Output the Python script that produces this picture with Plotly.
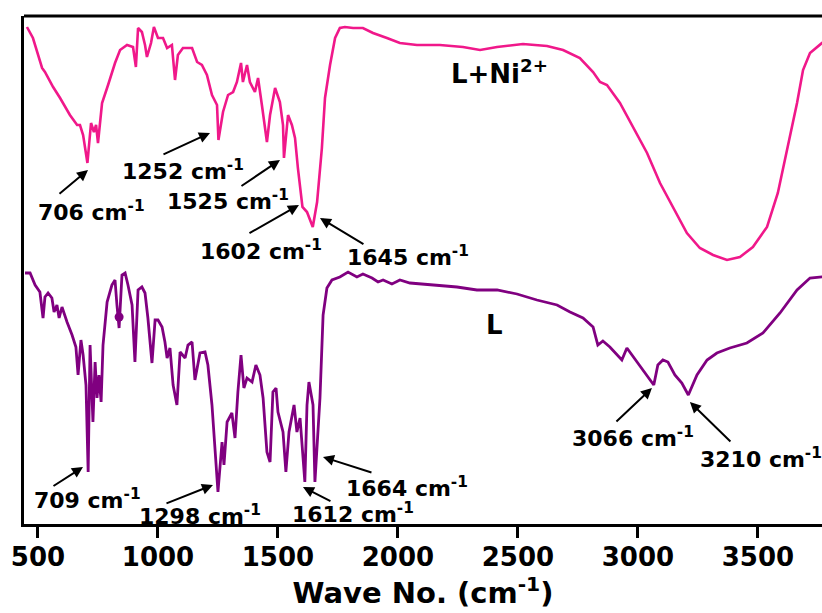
import plotly.graph_objects as go

# ---------------- data (wavenumber in cm^-1, transmittance in a.u., stacked) -------------
ni_wn = [454, 479, 517, 529, 563, 592, 633, 663, 675, 688, 706, 721, 733, 742, 750, 767, 792,
         821, 842, 871, 896, 908, 917, 933, 946, 954, 971, 983, 1000, 1021, 1038, 1058, 1071,
         1083, 1104, 1142, 1163, 1183, 1204, 1225, 1246, 1252, 1271, 1292, 1313, 1329, 1346,
         1354, 1371, 1383, 1404, 1417, 1433, 1454, 1467, 1488, 1508, 1521, 1525, 1542, 1558,
         1571, 1583, 1602, 1621, 1645, 1663, 1683, 1696, 1717, 1738, 1758, 1779, 1813, 1854,
         1896, 1954, 2008, 2079, 2175, 2271, 2342, 2413, 2521, 2621, 2688, 2758, 2813, 2842,
         2871, 2925, 2979, 3038, 3092, 3146, 3204, 3258, 3313, 3371, 3425, 3479, 3538, 3583,
         3625, 3663, 3688, 3717, 3767, 3800]
ni_t = [100.0, 97.8, 91.8, 91.0, 88.0, 85.8, 82.4, 80.4, 80.4, 78.4, 72.8, 80.8, 79.0, 80.4,
        76.8, 84.8, 88.4, 92.8, 95.4, 96.4, 96.0, 92.0, 99.8, 99.0, 96.4, 94.0, 96.8, 100.0,
        97.8, 97.8, 95.8, 96.4, 89.4, 94.4, 95.8, 95.8, 93.0, 92.4, 90.4, 86.4, 84.4, 77.4,
        83.0, 86.4, 87.0, 89.0, 92.8, 89.0, 92.4, 89.0, 87.0, 89.8, 84.4, 77.0, 82.4, 87.8,
        85.0, 80.4, 73.8, 82.4, 80.4, 77.8, 71.8, 64.0, 63.0, 60.0, 65.0, 75.8, 85.8, 92.4,
        97.8, 99.8, 100.0, 99.8, 99.8, 98.8, 97.8, 96.8, 96.4, 96.4, 96.0, 95.4, 96.0, 96.6,
        96.2, 95.4, 93.8, 91.0, 89.0, 88.4, 84.8, 80.0, 74.8, 68.8, 64.0, 58.8, 55.8, 54.4,
        53.4, 54.0, 56.0, 60.0, 66.8, 76.0, 84.8, 91.4, 94.8, 96.8, 97.4]

l_wn = [446, 467, 488, 508, 521, 529, 542, 558, 567, 579, 588, 600, 621, 642, 658, 667, 679,
        688, 700, 709, 717, 729, 738, 746, 754, 763, 771, 788, 808, 821, 829, 838, 850, 863,
        875, 892, 904, 917, 933, 946, 958, 975, 988, 1000, 1017, 1029, 1038, 1050, 1063, 1079,
        1092, 1113, 1125, 1142, 1154, 1175, 1196, 1208, 1225, 1238, 1250, 1267, 1275, 1288,
        1308, 1321, 1333, 1346, 1358, 1371, 1392, 1408, 1425, 1438, 1454, 1467, 1479, 1492,
        1500, 1521, 1533, 1546, 1567, 1579, 1592, 1612, 1621, 1629, 1646, 1654, 1664, 1675,
        1688, 1704, 1725, 1758, 1792, 1829, 1854, 1892, 1917, 1938, 1975, 2008, 2050, 2133,
        2246, 2329, 2413, 2496, 2579, 2663, 2717, 2771, 2813, 2833, 2854, 2883, 2913, 2933,
        2954, 2975, 3000, 3029, 3066, 3083, 3104, 3125, 3154, 3183, 3210, 3246, 3288, 3329,
        3383, 3454, 3521, 3592, 3663, 3717, 3767, 3800]
l_t = [50.8, 50.8, 48.4, 47.0, 41.8, 46.0, 46.8, 45.8, 43.0, 44.4, 41.8, 44.0, 41.0, 38.4,
       36.0, 30.4, 37.4, 34.4, 28.4, 11.0, 36.4, 21.0, 33.0, 25.8, 30.4, 25.0, 36.4, 45.0,
       48.4, 49.4, 44.4, 39.8, 50.4, 50.8, 48.4, 44.4, 33.0, 47.4, 48.0, 46.8, 41.8, 32.8,
       41.4, 41.4, 40.0, 37.0, 33.8, 35.8, 28.4, 24.4, 35.0, 33.8, 36.4, 37.0, 29.4, 34.8,
       35.0, 32.4, 24.4, 15.0, 7.0, 17.0, 12.4, 21.0, 22.8, 17.8, 27.0, 34.4, 27.8, 29.8,
       29.0, 32.4, 30.4, 25.8, 15.0, 13.0, 27.0, 27.8, 23.0, 19.0, 11.0, 19.0, 24.4, 19.0,
       21.8, 9.0, 24.4, 29.0, 24.4, 9.0, 16.4, 25.8, 42.4, 47.8, 49.4, 50.0, 51.0, 50.0,
       50.6, 49.8, 49.0, 49.4, 48.6, 49.4, 48.8, 48.4, 48.0, 47.4, 47.4, 46.6, 45.4, 44.4,
       43.0, 41.8, 40.0, 36.4, 37.2, 36.0, 34.4, 33.4, 35.8, 34.4, 32.8, 31.0, 28.4, 32.4,
       33.4, 33.0, 30.4, 28.8, 26.4, 30.4, 33.4, 34.8, 35.8, 36.8, 38.8, 42.8, 47.4, 49.8,
       50.0, 50.2]

# small round blob present on the L spectrum
blob_wn = [838]
blob_t = [42.0]

tick_vals = [500, 1000, 1500, 2000, 2500, 3000, 3500]
tick_text = ["500", "1000", "1500", "2000", "2500", "3000", "3500"]

# peak labels: (text, label px-x, label px-y, arrow tail px, arrow head px)
peak_labels = [
    ("706", (92, 211), (58, 195), (88, 170)),
    ("1252", (183, 170), (162, 155), (210, 133)),
    ("1525", (228, 200), (240, 187), (280, 160)),
    ("1602", (261, 250), (248, 234), (299, 205)),
    ("1645", (408, 256), (365, 245), (320, 218)),
    ("709", (88, 499), (52, 487), (83, 467)),
    ("1298", (200, 515), (165, 504), (213, 485)),
    ("1612", (353, 513), (332, 502), (303, 487)),
    ("1664", (407, 487), (373, 473), (323, 457)),
    ("3066", (633, 437), (615, 423), (652, 388)),
    ("3210", (761, 458), (732, 443), (690, 402)),
]

PINK = "#F0188A"
PURPLE = "#800080"
FONT = "DejaVu Sans"

X_RANGE = [441.7, 3767]
Y_RANGE = [0.6, 102.2]


def X(px):
    return 500 + (px - 38) * 25 / 6


def Y(py):
    return (527 - py) / 5


fig = go.Figure()
fig.add_trace(go.Scatter(x=ni_wn, y=ni_t, mode="lines", line=dict(color=PINK, width=2.6),
                         name="L+Ni2+", showlegend=False))
fig.add_trace(go.Scatter(x=l_wn, y=l_t, mode="lines", line=dict(color=PURPLE, width=2.8),
                         name="L", showlegend=False))
fig.add_trace(go.Scatter(x=blob_wn, y=blob_t, mode="markers",
                         marker=dict(color=PURPLE, size=9), showlegend=False))

annotations = []
for txt, (lx, ly), (tx, ty), (hx, hy) in peak_labels:
    annotations.append(dict(x=X(lx), y=Y(ly), xref="x", yref="y",
                            text=f"{txt} cm<sup>-1</sup>", showarrow=False,
                            font=dict(family=FONT, size=22, color="black", weight="bold"),
                            xanchor="center", yanchor="middle"))
    annotations.append(dict(x=X(hx), y=Y(hy), xref="x", yref="y",
                            ax=X(tx), ay=Y(ty), axref="x", ayref="y",
                            text="", showarrow=True, arrowhead=2, arrowsize=1.1,
                            arrowwidth=2, arrowcolor="black"))

annotations.append(dict(x=X(500), y=Y(72), xref="x", yref="y", text="L+Ni<sup>2+</sup>",
                        showarrow=False,
                        font=dict(family=FONT, size=26, color="black", weight="bold")))
annotations.append(dict(x=X(495), y=Y(325), xref="x", yref="y", text="L",
                        showarrow=False,
                        font=dict(family=FONT, size=26, color="black", weight="bold")))

fig.update_layout(
    width=822, height=613,
    margin=dict(l=24, r=0, t=16, b=89),
    paper_bgcolor="white", plot_bgcolor="white",
    annotations=annotations,
    hovermode=False,
    shapes=[dict(type="line", xref="paper", yref="paper", x0=0, x1=1, y0=1, y1=1,
                 line=dict(color="black", width=3))],
)
fig.update_xaxes(range=X_RANGE, showgrid=False, zeroline=False,
                 showline=True, linecolor="black", linewidth=3,
                 ticks="outside", ticklen=11, tickwidth=3, tickcolor="black",
                 tickvals=tick_vals, ticktext=tick_text, ticklabelstandoff=-3,
                 tickfont=dict(family=FONT, size=26, color="black", weight="bold"),
                 title=dict(text="Wave No. (cm<sup>-1</sup>)", standoff=4,
                            font=dict(family=FONT, size=29, color="black", weight="bold")))
fig.update_yaxes(range=Y_RANGE, showgrid=False, zeroline=False, showticklabels=False,
                 showline=True, linecolor="black", linewidth=3, ticks="")

fig.write_html("out.html", config={"displayModeBar": False},
               post_script="document.body.style.margin='0';")
